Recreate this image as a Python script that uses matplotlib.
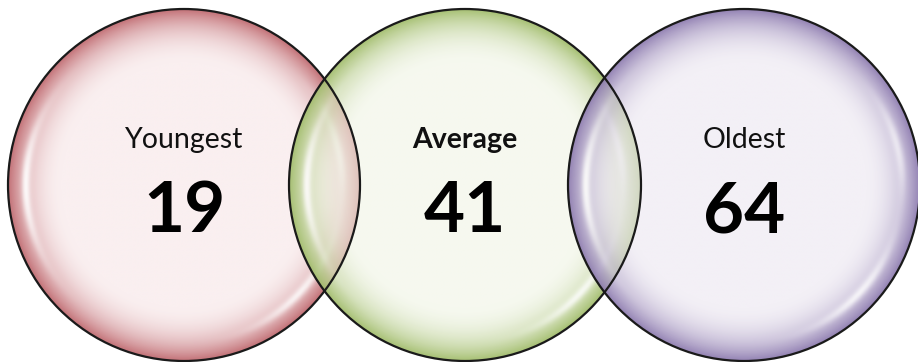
import numpy as np
import matplotlib.pyplot as plt
from matplotlib.patches import Circle

labels = ['Youngest', 'Average', 'Oldest']
values = [19, 41, 64]
bold_label = [False, True, False]

# inner / rim colours of each bubble
inner_colors = ['#f7e6e7', '#f1f5e6', '#ece7f1']
rim_colors = ['#c06a70', '#a2bd6c', '#8e7cb0']

centers_x = [184, 465, 744]
center_y = 185
radius = 176

fig = plt.figure(figsize=(9.18, 3.62), dpi=100)
ax = fig.add_axes([0, 0, 1, 1])
ax.set_xlim(0, 918)
ax.set_ylim(362, 0)
ax.set_aspect('equal')
ax.axis('off')


def hex_rgb(c):
    c = c.lstrip('#')
    return np.array([int(c[i:i + 2], 16) / 255 for i in (0, 2, 4)])


def bubble_image(inner, rim, n=400):
    g = np.linspace(-1, 1, n)
    xx, yy = np.meshgrid(g, g)
    t = np.clip(np.hypot(xx, yy), 0, 1)
    ang = np.arctan2(yy, xx)
    # soft rim shading that gets darker towards the edge
    w = np.clip((t - 0.7) / 0.3, 0, 1) ** 1.7
    rgb = inner[None, None, :] * (1 - w[..., None]) + rim[None, None, :] * w[..., None]
    # glossy highlight streaks just inside the rim
    band = np.exp(-((t - 0.9) / 0.025) ** 2)
    left = np.exp(-((ang - np.pi * 1.0) / 0.45) ** 2) + np.exp(-((ang + np.pi * 1.0) / 0.45) ** 2)
    lower_right = np.exp(-((ang - 0.75) / 0.35) ** 2)
    upper_right = np.exp(-((ang + 0.25) / 0.3) ** 2) * 0.6
    h = np.clip(band * (left * 0.9 + lower_right * 0.8 + upper_right), 0, 1)
    rgb = rgb * (1 - h[..., None]) + h[..., None]
    alpha = 0.62 + 0.33 * w
    return np.dstack([rgb, alpha])


for cx, ci, cr in zip(centers_x, inner_colors, rim_colors):
    img = bubble_image(hex_rgb(ci), hex_rgb(cr))
    im = ax.imshow(img, extent=(cx - radius, cx + radius, center_y + radius, center_y - radius),
                   interpolation='bilinear', zorder=1)
    clip = Circle((cx, center_y), radius, transform=ax.transData)
    im.set_clip_path(clip)

for cx in centers_x:
    ax.add_patch(Circle((cx, center_y), radius, fill=False, edgecolor='#1a1a1a', lw=1.6, zorder=3))

for cx, lab, val, b in zip(centers_x, labels, values, bold_label):
    ax.text(cx, 140, lab, ha='center', va='center', fontsize=20.5, family='Lato',
            fontweight='bold' if b else 'normal', color='#111111', zorder=4)
    ax.text(cx, 212, str(val), ha='center', va='center', fontsize=51, family='Lato',
            fontweight='bold', color='#000000', zorder=4)

fig.savefig('out.png', dpi=100)
